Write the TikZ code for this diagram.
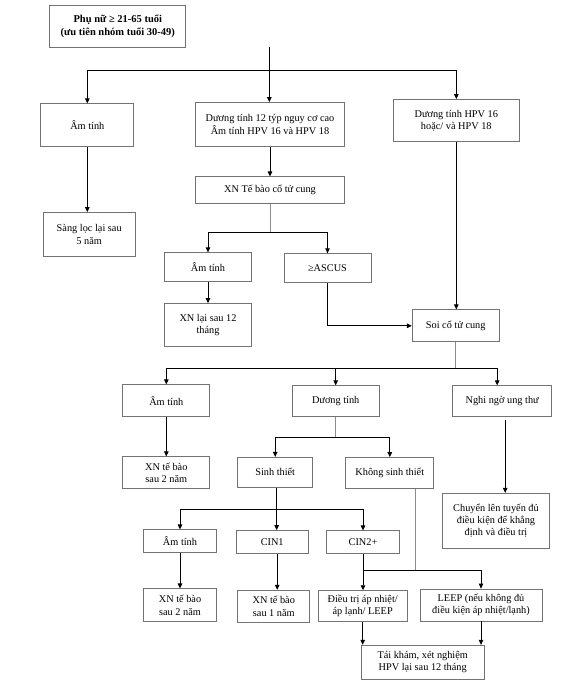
\documentclass[tikz,border=0pt]{standalone}
\usepackage{fontspec}
\setmainfont{Liberation Serif}
\usetikzlibrary{arrows.meta}

\begin{document}
\begin{tikzpicture}[x=1pt, y=-1pt,
            box/.style = {draw=black!55,
                line width=0.7pt,
                align=center,
                inner sep=1pt,
                font=\fontsize{10.3}{12.3}\selectfont,
                },
            flow/.style = {line width=0.9pt,
                -{Triangle[length=5pt,width=4.5pt]}},
            feed/.style = {draw=black!45, line width=0.6pt}]

        % Page
        \useasboundingbox (0,0) rectangle (576,696);
        \fill[white] (0,0) rectangle (576,696);

        % Start
        \node[box,font={\fontsize{10.5}{13.3}\selectfont\bfseries},
            minimum width=136pt,minimum height=42pt] (start) at (117.8,26.2)
            {Phụ nữ ≥ 21-65 tuổi\\(ưu tiên nhóm tuổi 30-49)};

        % HPV result
        \node[box,minimum width=93pt,minimum height=43pt] (neg1) at (87.3,125.3) {Âm tính};
        \node[box,minimum width=149pt,minimum height=44pt] (pos12) at (270,124.5)
            {Dương tính 12 týp nguy cơ cao\\Âm tính HPV 16 và HPV 18};
        \node[box,minimum width=126pt,minimum height=42pt] (pos1618) at (456.3,120.5)
            {Dương tính HPV 16\\hoặc/ và HPV 18};
        \node[box,minimum width=92pt,minimum height=44pt] (rescreen) at (89.2,234.5)
            {Sàng lọc lại sau\\5 năm};

        % Cytology
        \node[box,minimum width=149pt,minimum height=27pt] (pap) at (270,190.3) {XN Tế bào cổ tử cung};
        \node[box,minimum width=87pt,minimum height=29pt] (neg2) at (208,267.2) {Âm tính};
        \node[box,minimum width=87pt,minimum height=29pt] (ascus) at (327.5,268.2) {≥ASCUS};
        \node[box,minimum width=87pt,minimum height=43pt] (retest) at (208,325) {XN lại sau 12\\tháng};

        % Colposcopy
        \node[box,minimum width=87pt,minimum height=32pt] (colpo) at (455.7,325.8) {Soi cổ tử cung};
        \node[box,minimum width=87pt,minimum height=32pt] (neg3) at (166.3,400.8) {Âm tính};
        \node[box,minimum width=87pt,minimum height=31pt] (pos) at (335.7,401.2) {Dương tính};
        \node[box,minimum width=99pt,minimum height=31pt] (cancer) at (502.2,401.2) {Nghi ngờ ung thư};
        \node[box,minimum width=87pt,minimum height=32pt] (cyto2) at (166.3,472.8) {XN tế bào\\sau 2 năm};
        \node[box,minimum width=75pt,minimum height=30pt] (biopsy) at (275.2,472.3) {Sinh thiết};
        \node[box,minimum width=88pt,minimum height=31pt] (nobiopsy) at (389.8,473) {Không sinh thiết};
        \node[box,minimum width=107pt,minimum height=55pt] (refer) at (496,520.8)
            {Chuyển lên tuyến đủ\\điều kiện để khẳng\\định và điều trị};

        % Biopsy result
        \node[box,minimum width=73pt,minimum height=23pt] (neg4) at (180,541.3) {Âm tính};
        \node[box,minimum width=72pt,minimum height=23pt] (cin1) at (272.2,542) {CIN1};
        \node[box,minimum width=73pt,minimum height=23pt] (cin2) at (363,542.3) {CIN2+};
        \node[box,minimum width=73pt,minimum height=33pt] (cytoa) at (180,605.3) {XN tế bào\\sau 2 năm};
        \node[box,minimum width=72pt,minimum height=32pt] (cytob) at (273.8,606.2) {XN tế bào\\sau 1 năm};
        \node[box,minimum width=89pt,minimum height=31pt] (ablate) at (362.7,606.1)
            {Điều trị áp nhiệt/\\áp lạnh/ LEEP};
        \node[box,minimum width=122pt,minimum height=32pt] (leep) at (481,605)
            {LEEP (nếu không đủ\\điều kiện áp nhiệt/lạnh)};
        \node[box,minimum width=123pt,minimum height=34pt] (followup) at (422.7,662.2)
            {Tái khám, xét nghiệm\\HPV lại sau 12 tháng};

        % Branch points
        \coordinate (fork0) at (269.3,47.3);
        \coordinate (split0) at (269.3,70.7);
        \coordinate (split1) at (270,232.7);
        \coordinate (split2) at (455.7,368.3);
        \coordinate (split3) at (335.7,437);
        \coordinate (split4) at (276.7,509.3);
        \coordinate (split5) at (363,570.7);

        % Connectors
        \draw[flow] (fork0) -- (fork0 |- pos12.north);
        \draw[flow] (split0) -| (neg1.north);
        \draw[flow] (split0) -| (pos1618.north);
        \draw[flow] (neg1.south) -- (neg1.south |- rescreen.north);
        \draw[flow] (pos12.south) -- (pap.north);

        \draw[feed] (pap.south) -- (split1);
        \draw[flow] (split1) -| (neg2.north);
        \draw[flow] (split1) -| (ascus.north);
        \draw[flow] (neg2.south) -- (retest.north);
        \draw[flow] (ascus.south) |- (colpo.west);
        \draw[flow] (pos1618.south) -- (pos1618.south |- colpo.north);

        \draw[feed] (colpo.south) -- (split2);
        \draw[flow] (split2) -| (neg3.north);
        \draw[flow] (split2) -| (pos.north);
        \draw[flow] (split2) -| ([xshift=-5pt]cancer.north);
        \draw[flow] (neg3.south) -- (cyto2.north);
        \draw[flow] ([xshift=3pt,yshift=-3pt]cancer.south) -- ([xshift=3pt]cancer.south |- refer.north);

        \draw[feed] (pos.south) -- (split3);
        \draw[flow] (split3) -| (biopsy.north);
        \draw[flow] (split3) -| (nobiopsy.north);

        \draw[flow] ([xshift=1.5pt]biopsy.south) -- ([xshift=1.5pt]biopsy.south |- cin1.north);
        \draw[flow] (split4) -| (neg4.north);
        \draw[flow] (split4) -| (cin2.north);
        \draw[flow] (neg4.south) -- (cytoa.north);
        \draw[flow] ([xshift=5pt]cin1.south) -- ([xshift=5pt]cin1.south |- cytob.north);

        \draw[flow] (cin2.south) -- (cin2.south |- ablate.north);
        \draw[feed] ([xshift=25pt]nobiopsy.south) -- ([xshift=25pt]nobiopsy.south |- split5);
        \draw[flow] (split5) -| (leep.north);
        \draw[flow] (ablate.south) -- (ablate.south |- followup.north);
        \draw[flow] (leep.south) -- (leep.south |- followup.north);

        \end{tikzpicture}
\end{document}
